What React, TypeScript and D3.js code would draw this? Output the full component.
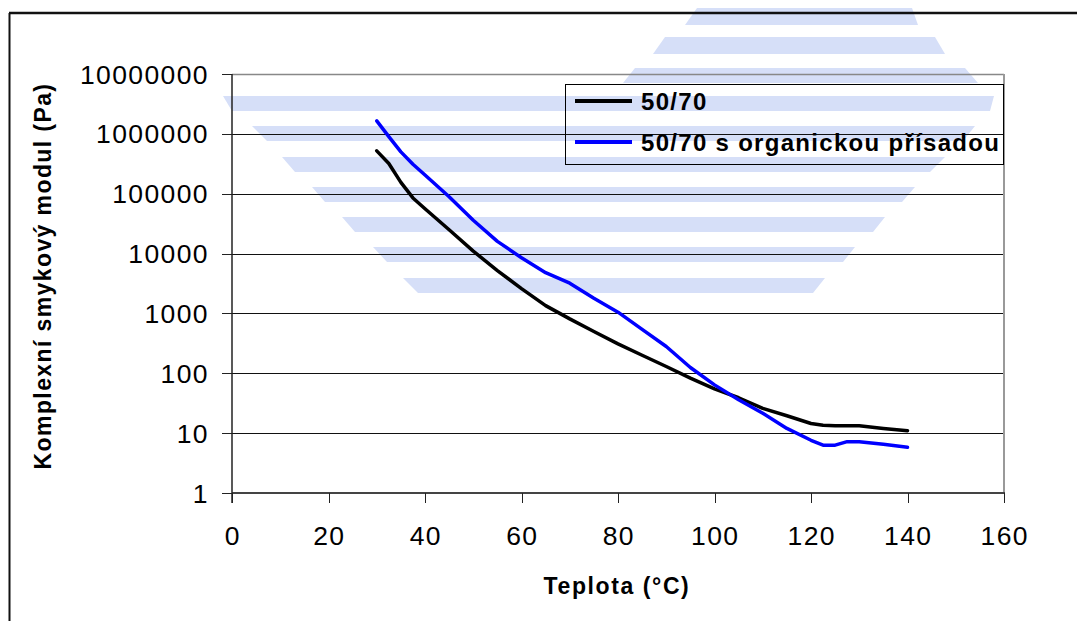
import React from "react";
import * as d3 from "d3";

const temps = [30, 32.5, 35, 37.5, 40, 45, 50, 55, 60, 65, 70, 75, 80, 85, 90, 95, 100, 105, 110, 115, 120, 122.5, 125, 127.5, 130, 135, 140];
const base5070 = [520000, 320000, 155000, 85000, 56000, 25000, 11000, 5200, 2600, 1350, 810, 500, 310, 200, 130, 83, 55, 39, 26, 19.5, 14.5, 13.5, 13.3, 13.3, 13.3, 12, 11];
const organic = [1650000, 900000, 500000, 310000, 205000, 89000, 36000, 16000, 8500, 4800, 3200, 1800, 1050, 540, 280, 125, 64, 36, 21.5, 12, 7.6, 6.3, 6.3, 7.2, 7.2, 6.5, 5.8];
const seriesNames = ["50/70", "50/70 s organickou přísadou"];
const seriesColors = ["#000000", "#0000FF"];
const xTicks = [0, 20, 40, 60, 80, 100, 120, 140, 160];
const yTicks = [1, 10, 100, 1000, 10000, 100000, 1000000, 10000000];
const xTitle = "Teplota (°C)";
const yTitle = "Komplexní smykový modul (Pa)";

// watermark stripes: [yTop, yBottom, leftTop, leftBottom, rightTop, rightBottom]
const stripes = [
  [8, 25, 697, 685, 912, 918],
  [37, 54, 665, 653, 935, 945],
  [68, 83, 635, 623, 965, 978],
  [96, 111, 223, 232, 994, 990],
  [126, 141, 252, 267, 975, 963],
  [157, 172, 282, 295, 945, 930],
  [187, 202, 312, 325, 915, 902],
  [217, 232, 342, 355, 885, 873],
  [247, 262, 373, 387, 855, 843],
  [278, 293, 403, 418, 825, 813],
];

const FONT = "'Liberation Sans', Arial, Helvetica, sans-serif";

export default function App() {
  const left = 232, right = 1004, top = 74, bottom = 493;
  const x = d3.scaleLinear().domain([0, 160]).range([left, right]);
  const y = d3.scaleLog().domain([1, 1e7]).range([bottom, top]);
  const line = d3.line<[number, number]>().x((d) => x(d[0])).y((d) => y(d[1]));
  const series = [base5070, organic].map((vals) => temps.map((t, i) => [t, vals[i]] as [number, number]));

  return (
    <svg width={1077} height={621} style={{ position: "absolute", left: 0, top: 0, background: "#fff" }}>
      <rect x={0} y={0} width={1077} height={621} fill="#fff" />
      {stripes.map((s, i) => (
        <polygon
          key={i}
          points={`${s[2]},${s[0]} ${s[4]},${s[0]} ${s[5]},${s[1]} ${s[3]},${s[1]}`}
          fill="#D6DFF8"
        />
      ))}
      {/* outer frame */}
      <line x1={9} y1={13} x2={1077} y2={13} stroke="#111" strokeWidth={2.5} />
      <line x1={9.5} y1={13} x2={9.5} y2={621} stroke="#111" strokeWidth={2} />

      {/* gridlines */}
      {yTicks.slice(1, -1).map((v) => (
        <line key={v} x1={left} x2={right} y1={Math.round(y(v)) + 0.5} y2={Math.round(y(v)) + 0.5} stroke="#111" strokeWidth={1} />
      ))}
      {/* plot border top/right */}
      <line x1={left} x2={right} y1={top + 0.5} y2={top + 0.5} stroke="#888" strokeWidth={1.5} />
      <line x1={right} x2={right} y1={top} y2={bottom} stroke="#999" strokeWidth={2} />
      {/* axes */}
      <line x1={left} x2={right + 1} y1={bottom} y2={bottom} stroke="#444" strokeWidth={2} />
      <line x1={left} x2={left} y1={top} y2={bottom + 10} stroke="#222" strokeWidth={1.5} />

      {/* y ticks */}
      {yTicks.map((v) => (
        <g key={v}>
          <line x1={left - 10} x2={left} y1={Math.round(y(v)) + 0.5} y2={Math.round(y(v)) + 0.5} stroke="#222" strokeWidth={1} />
          <text x={209} y={y(v)} dy="0.36em" textAnchor="end" fontFamily={FONT} fontSize={26.5} letterSpacing={1.4} fill="#000">
            {String(v)}
          </text>
        </g>
      ))}
      {/* x ticks */}
      {xTicks.map((v) => (
        <g key={v}>
          <line x1={Math.round(x(v)) + 0.5} x2={Math.round(x(v)) + 0.5} y1={bottom} y2={bottom + 10} stroke="#222" strokeWidth={1} />
          <text x={x(v) + 0.8} y={545} textAnchor="middle" fontFamily={FONT} fontSize={26.5} letterSpacing={1.4} fill="#000">
            {String(v)}
          </text>
        </g>
      ))}

      {/* series */}
      {series.map((d, i) => (
        <path key={i} d={line(d) || ""} fill="none" stroke={seriesColors[i]} strokeWidth={3.5} strokeLinejoin="round" strokeLinecap="round" />
      ))}

      {/* legend */}
      <rect x={565.5} y={84.5} width={438} height={80} fill="none" stroke="#000" strokeWidth={1} />
      {seriesNames.map((n, i) => (
        <g key={n}>
          <line x1={575} x2={632} y1={101 + i * 41} y2={101 + i * 41} stroke={seriesColors[i]} strokeWidth={4} />
          <text x={641} y={101 + i * 41} dy="0.36em" fontFamily={FONT} fontWeight="bold" fontSize={24} letterSpacing={1.3} fill="#000">
            {n}
          </text>
        </g>
      ))}

      {/* axis titles */}
      <text x={617} y={594} textAnchor="middle" fontFamily={FONT} fontWeight="bold" fontSize={23} letterSpacing={1.6} fill="#000">
        {xTitle}
      </text>
      <text
        transform={`translate(51,276) rotate(-90)`}
        textAnchor="middle"
        fontFamily={FONT}
        fontWeight="bold"
        fontSize={23}
        letterSpacing={1.4}
        fill="#000"
      >
        {yTitle}
      </text>
    </svg>
  );
}
